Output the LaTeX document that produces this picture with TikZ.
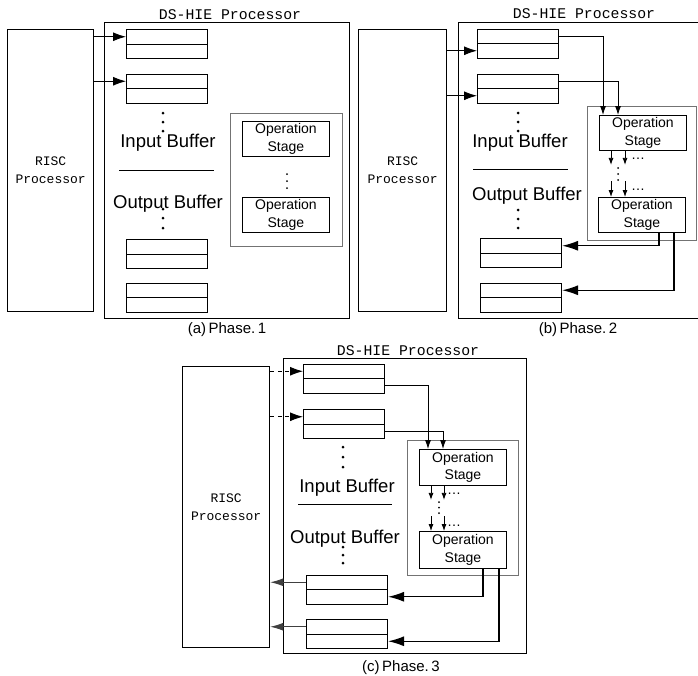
\documentclass[tikz,border=0pt]{standalone}
\usepackage{fontspec}
\setmainfont{Liberation Sans}
\newfontfamily\monofont{Liberation Mono}
\usetikzlibrary{arrows.meta,calc}

\tikzset{
  unit/.style={draw, line width=1.3pt, anchor=north west, inner sep=0pt},
  riscbox/.style={unit, align=center, font=\monofont\fontsize{13}{18}\selectfont},
  buf/.style={draw, line width=1pt, anchor=north west, inner sep=0pt,
    minimum width=81pt, minimum height=29pt},
  stagewrap/.style={draw=black!55, line width=1pt, anchor=north west, inner sep=0pt},
  stage/.style={draw, line width=0.9pt, anchor=north west, inner sep=0pt,
    minimum width=87pt, minimum height=35pt, align=center,
    font=\fontsize{14}{17.5}\selectfont},
  titletxt/.style={font=\monofont\fontsize{14.8}{16}\selectfont, inner sep=0pt, anchor=base},
  buftxt/.style={font=\fontsize{18.5}{20}\selectfont, inner sep=0pt, anchor=base},
  captxt/.style={font=\fontsize{15}{17}\selectfont, inner sep=0pt, anchor=base},
  ell/.style={font=\fontsize{14}{15}\selectfont, inner sep=0pt, anchor=base west},
  feed/.style={line width=0.9pt, -{Latex[length=13pt,width=9pt]}},
  feeddash/.style={feed, dash pattern=on 4pt off 3.5pt},
  route/.style={line width=0.8pt, -{Latex[length=9pt,width=6pt]}},
  hop/.style={line width=0.8pt, -{Latex[length=7pt,width=5pt]}},
  drain/.style={line width=1.4pt, -{Latex[length=16pt,width=10pt]}},
  ret/.style={line width=0.9pt, draw=black!75, -{Latex[length=13pt,width=8pt]}},
  divider/.style={line width=1pt},
  split/.style={line width=1pt},
}

% a column of three dots
\newcommand\dotcol[5]{\foreach \yy in {#2,#3,#4} {\fill (#1,\yy) circle (#5);}}

\begin{document}
\begin{tikzpicture}[x=1pt,y=-1pt]
\useasboundingbox (0,0) rectangle (698,675);
\clip (0,0) rectangle (698,675);

% ================= (a) Phase 1 =================
\node[riscbox, minimum width=86pt, minimum height=282pt] (ra) at (7,29) {RISC\\Processor};
\node[unit, minimum width=245pt, minimum height=296pt] (da) at (104,22) {};
\node[titletxt] (ta) at (230,19) {DS-HIE Processor};

\node[buf] (ia1) at (126,29) {};
\node[buf] (ia2) at (126,73.5) {};
\node[buf] (oa1) at (126,239) {};
\node[buf] (oa2) at (126,282.5) {};
\foreach \b in {ia1,ia2,oa1,oa2} \draw[split] (\b.west) -- (\b.east);

\node[buftxt] (ila) at (168,147) {Input Buffer};
\node[buftxt] (ola) at (168,208) {Output Buffer};
\coordinate (rla) at (119,170);
\coordinate (rra) at (214,170);
\draw[divider] (rla) -- (rra);
\dotcol{163}{113}{122}{131}{1.5pt}
\dotcol{163}{209}{218}{228}{1.5pt}

\node[stagewrap, minimum width=112pt, minimum height=133pt] (wa) at (230,113) {};
\node[stage] (sa1) at (242,121) {Operation\\Stage};
\node[stage] (sa2) at (242,197) {Operation\\Stage};
\dotcol{287}{174}{181}{188}{1pt}

\coordinate (ia1u) at ([yshift=7.25pt]ia1.west);
\coordinate (ia2u) at ([yshift=7.25pt]ia2.west);
\draw[feed] (ra.east |- ia1u) -- (ia1u);
\draw[feed] (ra.east |- ia2u) -- (ia2u);

\node[captxt] (ca) at (227,333) {(a)\,Phase.\,1};

% ================= (b) Phase 2 =================
\node[riscbox, minimum width=88pt, minimum height=282pt] (rb) at (358,29) {RISC\\Processor};
\node[unit, minimum width=247pt, minimum height=296pt] (db) at (458,22) {};
\node[titletxt] (tb) at (584,18) {DS-HIE Processor};

\node[buf] (ib1) at (477,28.5) {};
\node[buf] (ib2) at (477,73.5) {};
\node[buf] (ob1) at (480,238) {};
\node[buf] (ob2) at (480,282.5) {};
\foreach \b in {ib1,ib2,ob1,ob2} \draw[split] (\b.west) -- (\b.east);

\node[buftxt] (ilb) at (520,147) {Input Buffer};
\node[buftxt] (olb) at (527,200) {Output Buffer};
\coordinate (rlb) at (473,169);
\coordinate (rrb) at (568,169);
\draw[divider] (rlb) -- (rrb);
\dotcol{518}{113}{122}{131}{1.5pt}
\dotcol{518}{210}{219}{228}{1.5pt}

\node[stagewrap, minimum width=109pt, minimum height=134pt] (wb) at (587,106) {};
\node[stage] (sb1) at (599,115) {Operation\\Stage};
\node[stage] (sb2) at (598,197) {Operation\\Stage};
\dotcol{618}{168}{174}{180}{1pt}

% pipeline hops between the stages
\coordinate (hb1) at ([xshift=12pt]sb1.south west);
\coordinate (hb2) at ([xshift=26pt]sb1.south west);
\coordinate (hb3) at ([xshift=13pt,yshift=16pt]sb2.north west);
\coordinate (hb4) at ([xshift=27pt,yshift=16pt]sb2.north west);
\draw[hop] (hb1) -- ++(0,14);
\draw[hop] (hb2) -- ++(0,14);
\draw[hop] (hb3) -- (hb3 |- sb2.north);
\draw[hop] (hb4) -- (hb4 |- sb2.north);
\node[ell] (eb1) at (631,159) {\ldots};
\node[ell] (eb2) at (631,190) {\ldots};

% input buffers fed by the RISC processor
\coordinate (ib1l) at ([yshift=-7.25pt]ib1.west);
\coordinate (ib2l) at ([yshift=-7.25pt]ib2.west);
\draw[feed] (rb.east |- ib1l) -- (ib1l);
\draw[feed] (rb.east |- ib2l) -- (ib2l);

% input buffers routed into the first stage
\draw[route] ([yshift=7.25pt]ib1.east) -| ([xshift=4pt]sb1.north west);
\draw[route] ([yshift=7.25pt]ib2.east) -| ([xshift=19pt]sb1.north west);

% last stage drains into the output buffers
\draw[drain] ([xshift=61pt]sb2.south west) |- ([yshift=7.25pt]ob1.east);
\draw[drain] ([xshift=76pt]sb2.south west) |- ([yshift=7.25pt]ob2.east);

\node[captxt] (cb) at (578,333) {(b)\,Phase.\,2};

% ================= (c) Phase 3 =================
\node[riscbox, minimum width=87pt, minimum height=281pt] (rc) at (182,366) {RISC\\Processor};
\node[unit, minimum width=243pt, minimum height=295pt] (dc) at (283,358) {};
\node[titletxt] (tc) at (408,355) {DS-HIE Processor};

\node[buf] (ic1) at (303,363.5) {};
\node[buf] (ic2) at (303,409) {};
\node[buf] (oc1) at (306,574.5) {};
\node[buf] (oc2) at (306,619) {};
\foreach \b in {ic1,ic2,oc1,oc2} \draw[split] (\b.west) -- (\b.east);

\node[buftxt] (ilc) at (347,492) {Input Buffer};
\node[buftxt] (olc) at (345,543) {Output Buffer};
\coordinate (rlc) at (298,504);
\coordinate (rrc) at (392,504);
\draw[divider] (rlc) -- (rrc);
\dotcol{343}{447}{457}{467}{1.5pt}
\dotcol{343}{547}{555}{563}{1.5pt}

\node[stagewrap, minimum width=111pt, minimum height=135pt] (wc) at (407,440) {};
\node[stage, minimum height=36pt] (sc1) at (419,449) {Operation\\Stage};
\node[stage, minimum height=37pt] (sc2) at (419,531) {Operation\\Stage};
\dotcol{439}{502}{507.5}{513}{1pt}

\coordinate (hc1) at ([xshift=12pt]sc1.south west);
\coordinate (hc2) at ([xshift=25pt]sc1.south west);
\coordinate (hc3) at ([xshift=12pt,yshift=15pt]sc2.north west);
\coordinate (hc4) at ([xshift=25pt,yshift=15pt]sc2.north west);
\draw[hop] (hc1) -- ++(0,14);
\draw[hop] (hc2) -- ++(0,14);
\draw[hop] (hc3) -- (hc3 |- sc2.north);
\draw[hop] (hc4) -- (hc4 |- sc2.north);
\node[ell] (ec1) at (447,494) {\ldots};
\node[ell] (ec2) at (447,526) {\ldots};

\coordinate (ic1u) at ([yshift=7.25pt]ic1.west);
\coordinate (ic2u) at ([yshift=7.25pt]ic2.west);
\draw[feeddash] (rc.east |- ic1u) -- (ic1u);
\draw[feeddash] (rc.east |- ic2u) -- (ic2u);

\draw[route] ([yshift=-7.25pt]ic1.east) -| ([xshift=9pt]sc1.north west);
\draw[route] ([yshift=-7.25pt]ic2.east) -| ([xshift=24pt]sc1.north west);

\draw[drain] ([xshift=64pt]sc2.south west) |- ([yshift=-7.25pt]oc1.east);
\draw[drain] ([xshift=80pt]sc2.south west) |- ([yshift=-7.25pt]oc2.east);

% output buffers returned to the RISC processor
\coordinate (oc1u) at ([yshift=7.25pt]oc1.west);
\coordinate (oc2u) at ([yshift=7.25pt]oc2.west);
\draw[ret] (oc1u) -- (rc.east |- oc1u);
\draw[ret] (oc2u) -- (rc.east |- oc2u);

\node[captxt] (cc) at (401,671) {(c)\,Phase.\,3};
\end{tikzpicture}
\end{document}
